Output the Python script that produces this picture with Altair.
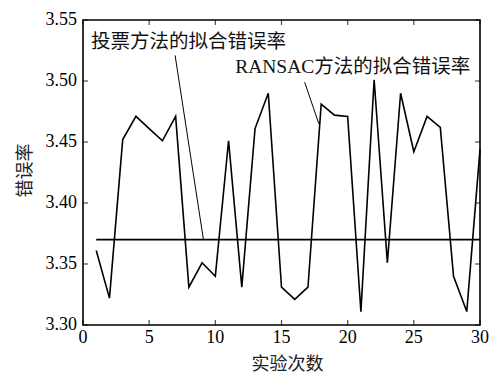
import altair as alt
import pandas as pd

# ---- data ----
trials = list(range(1, 31))
ransac_err = [3.361, 3.322, 3.452, 3.471, 3.461, 3.451, 3.471, 3.331, 3.351, 3.340,
              3.451, 3.331, 3.461, 3.490, 3.331, 3.321, 3.331, 3.481, 3.472, 3.471,
              3.311, 3.501, 3.351, 3.490, 3.442, 3.471, 3.462, 3.340, 3.311, 3.444]
voting_err = [3.37] * 30

x_ticks = [0, 5, 10, 15, 20, 25, 30]
y_ticks = [3.30, 3.35, 3.40, 3.45, 3.50, 3.55]

ann_labels = ["投票方法的拟合错误率", "RANSAC方法的拟合错误率"]
ann_x = [0.6, 11.5]
ann_y = [3.5322, 3.5117]
lead_x = [6.96, 16.75]
lead_y = [3.521, 3.499]
lead_x2 = [9.1, 17.82]
lead_y2 = [3.370, 3.465]

XMIN, XMAX = 0, 30
YMIN, YMAX = 3.30, 3.55

serif = "Liberation Serif"
cjk = "Noto Sans CJK SC"
mixed = "Liberation Serif, Noto Sans CJK SC"

df = pd.DataFrame({"trial": trials, "ransac": ransac_err, "voting": voting_err})
ann = pd.DataFrame({"label": ann_labels, "x": ann_x, "y": ann_y})
lead = pd.DataFrame({"x": lead_x, "y": lead_y, "x2": lead_x2, "y2": lead_y2})
xt = pd.DataFrame({"v": x_ticks, "lo": [YMIN] * len(x_ticks), "hi": [YMAX] * len(x_ticks),
                   "txt": [str(v) for v in x_ticks]})
yt = pd.DataFrame({"v": y_ticks, "lo": [XMIN] * len(y_ticks), "hi": [XMAX] * len(y_ticks),
                   "txt": [f"{v:.2f}" for v in y_ticks]})

xscale = alt.Scale(domain=[XMIN, XMAX], nice=False, zero=False)
yscale = alt.Scale(domain=[YMIN, YMAX], nice=False, zero=False)

xaxis = alt.Axis(values=x_ticks, labels=False,
                 title="实验次数", titleX=204, titleY=39, titleBaseline="middle",
                 titleAlign="center")
yaxis = alt.Axis(values=y_ticks, labels=False,
                 title="错误率", titleX=-58, titleY=150, titleBaseline="middle",
                 titleAlign="center", titleAngle=270)

X = lambda f: alt.X(f, scale=xscale, axis=xaxis)
Y = lambda f: alt.Y(f, scale=yscale, axis=yaxis)

base = alt.Chart(df)

ransac_line = base.mark_line(color="black", strokeWidth=1.6).encode(
    x=X("trial:Q"), y=Y("ransac:Q"))
voting_line = base.mark_line(color="black", strokeWidth=1.6).encode(
    x=X("trial:Q"), y=Y("voting:Q"))

leaders = alt.Chart(lead).mark_rule(color="black", strokeWidth=1).encode(
    x=X("x:Q"), y=Y("y:Q"), x2="x2:Q", y2="y2:Q")
texts = alt.Chart(ann).mark_text(align="left", baseline="middle", font=mixed,
                                 fontSize=19.5, color="#111").encode(
    x=X("x:Q"), y=Y("y:Q"), text="label:N")

# tick labels (serif)
xlab = alt.Chart(xt).mark_text(align="center", baseline="middle", font=serif,
                               fontSize=18, color="black", dy=13).encode(
    x=X("v:Q"), y=Y("lo:Q"), text="txt:N")
ylab = alt.Chart(yt).mark_text(align="right", baseline="middle", font=serif,
                               fontSize=18, color="black", dx=-6).encode(
    x=X("lo:Q"), y=Y("v:Q"), text="txt:N")

# inward ticks on all four sides
tick_b = alt.Chart(xt).mark_tick(orient="vertical", size=5, thickness=1.2, color="black",
                                 yOffset=-2.5).encode(x=X("v:Q"), y=Y("lo:Q"))
tick_t = alt.Chart(xt).mark_tick(orient="vertical", size=5, thickness=1.2, color="black",
                                 yOffset=2.5).encode(x=X("v:Q"), y=Y("hi:Q"))
tick_l = alt.Chart(yt).mark_tick(orient="horizontal", size=5, thickness=1.2, color="black",
                                 xOffset=2.5).encode(y=Y("v:Q"), x=X("lo:Q"))
tick_r = alt.Chart(yt).mark_tick(orient="horizontal", size=5, thickness=1.2, color="black",
                                 xOffset=-2.5).encode(y=Y("v:Q"), x=X("hi:Q"))

chart = alt.layer(ransac_line, voting_line, leaders, texts, xlab, ylab,
                  tick_b, tick_t, tick_l, tick_r).properties(
    width=397, height=305,
    autosize=alt.AutoSizeParams(type="none"),
    padding={"left": 75, "top": 12, "right": 9, "bottom": 50},
    background="white",
).configure_view(stroke="black", strokeWidth=1.6).configure_axis(
    tickSize=0, domain=False, grid=False,
    titleFont=cjk, titleFontSize=18, titleFontWeight="normal", titleColor="#222",
)

chart.save("out.html", embed_options={"renderer": "svg", "actions": False})
